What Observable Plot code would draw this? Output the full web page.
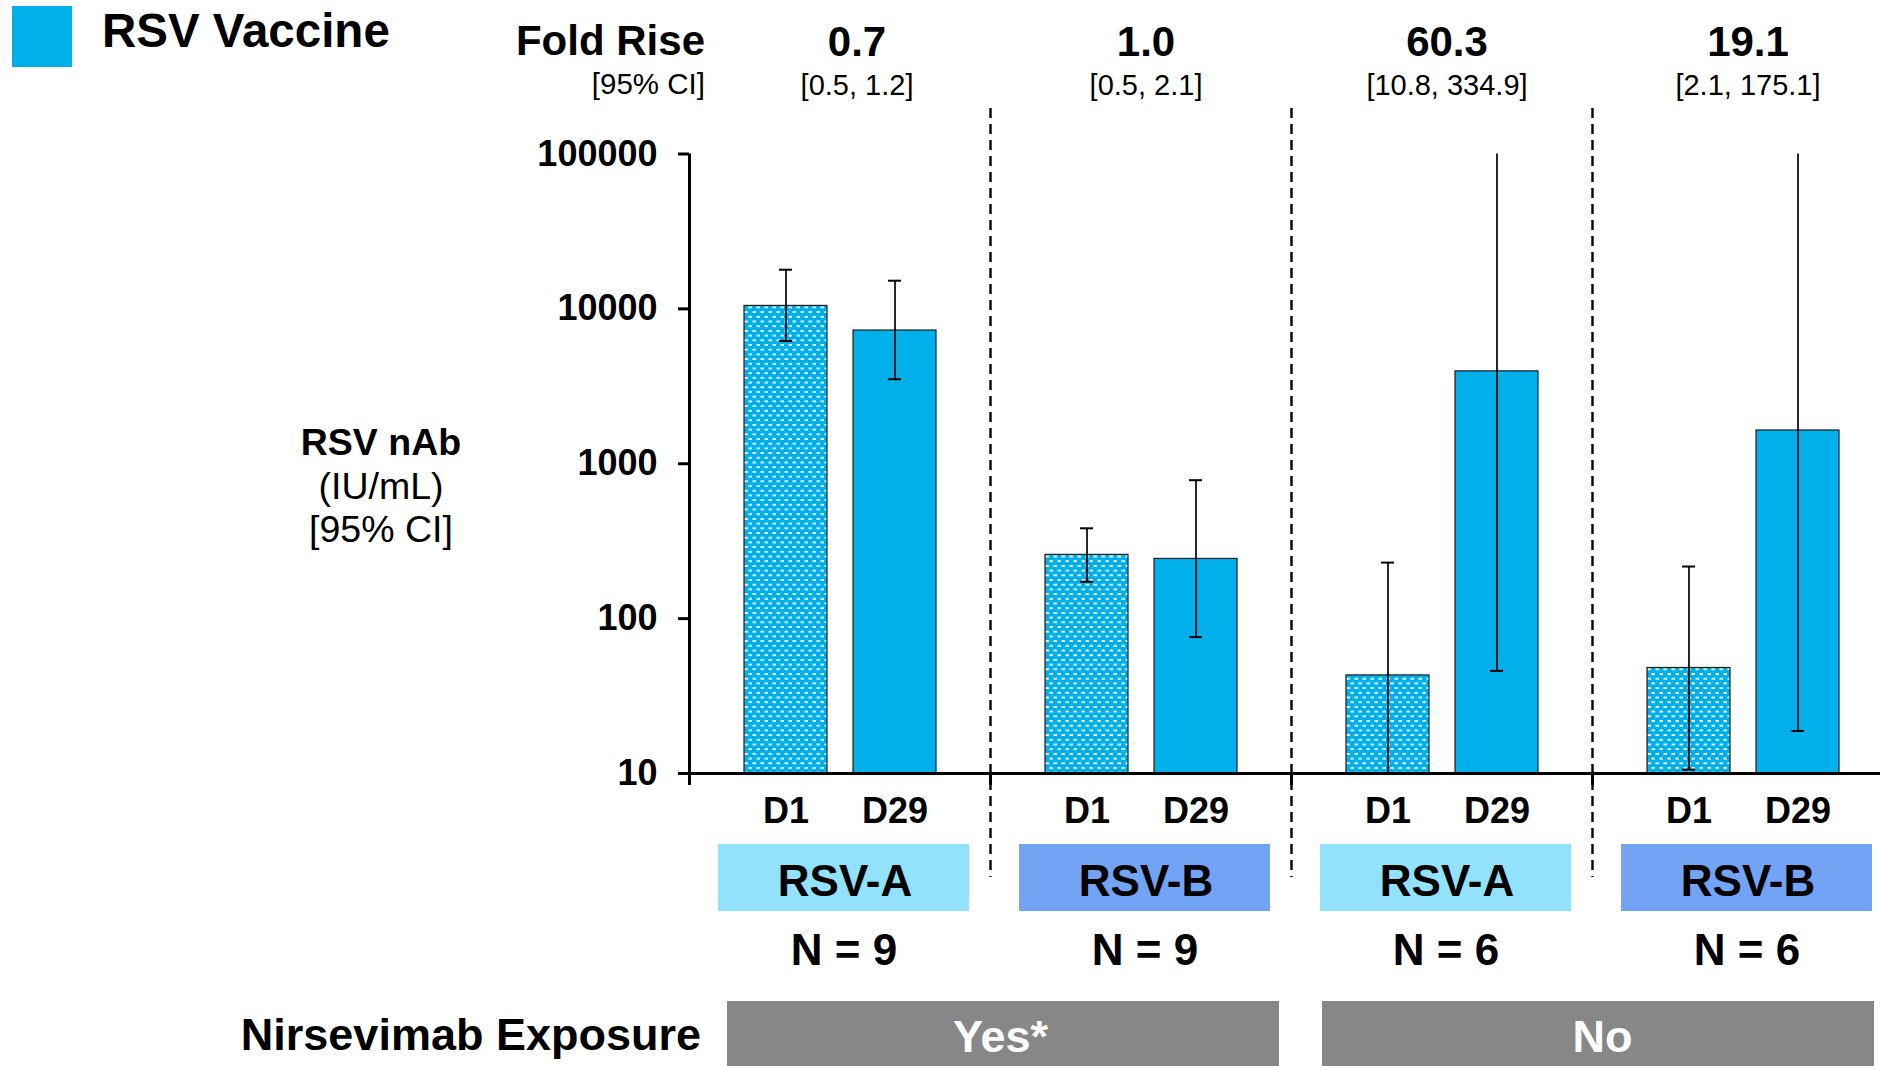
<!DOCTYPE html>
<html><head><meta charset="utf-8">
<script src="https://cdn.jsdelivr.net/npm/d3@7"></script>
<script src="https://cdn.jsdelivr.net/npm/@observablehq/plot@0.6"></script>
<style>
html,body{margin:0;padding:0;background:#fff;overflow:hidden;}
#chart svg{display:block;max-width:none;}
g[aria-label="y-axis tick label"] text, g[aria-label="x-axis tick label"] text{font-weight:bold;}
</style></head><body><div id="chart"></div>
<script>
// ---- data ----
const groups = ["RSV-A | Yes", "RSV-B | Yes", "RSV-A | No", "RSV-B | No"];
const strains = ["RSV-A", "RSV-B", "RSV-A", "RSV-B"];
const nLabels = ["N = 9", "N = 9", "N = 6", "N = 6"];
const foldRise = ["0.7", "1.0", "60.3", "19.1"];
const foldRiseCI = ["[0.5, 1.2]", "[0.5, 2.1]", "[10.8, 334.9]", "[2.1, 175.1]"];
const days = ["D1", "D29"];
const d1GMT = [10450, 258, 43, 48];
const d1Lower = [6200, 173, 7.5, 10.6];
const d1Upper = [17900, 383, 230, 217];
const d29GMT = [7250, 243, 3950, 1640];
const d29Lower = [3515, 76, 46, 18.8];
const d29Upper = [15200, 783, 300000, 150000];
const exposureLabels = ["Yes*", "No"];
const yTicks = [10, 100, 1000, 10000, 100000];
const strainColors = ["#92e2fb", "#72a3f5"];
const vaccineColor = "#00b0ea";

// ---- tables ----
const bars = groups.flatMap((g, i) => [
  {group: g, day: days[0], gmt: d1GMT[i], lo: d1Lower[i], hi: d1Upper[i]},
  {group: g, day: days[1], gmt: d29GMT[i], lo: d29Lower[i], hi: d29Upper[i]}
]);
const groupRows = groups.map((g, i) => ({group: g, strain: strains[i], n: nLabels[i], fr: foldRise[i], ci: foldRiseCI[i]}));
const exposure = [{group: groups[1], label: exposureLabels[0]}, {group: groups[3], label: exposureLabels[1]}];

// ---- layout ----
const W = 1880, H = 1066, mL = 689, mR = -13, mT = 153.5, mB = 293;
const facetW = (W - mL - mR) / groups.length;
const axisBottom = H - mB;
const FONT = "'Liberation Sans', Arial, Helvetica, sans-serif";
const expoBox = {fill: "#878787", insetTop: 1001 - mT, insetBottom: -(H + 5 - axisBottom)};
const frStyle = {fx: "group", text: "fr", frameAnchor: "top", dy: 55 - mT, lineAnchor: "bottom", fontSize: 42, fontWeight: "bold", fill: "#000"};
const ciStyle = {fx: "group", text: "ci", frameAnchor: "top", dy: 94 - mT, lineAnchor: "bottom", fontSize: 29, fill: "#000"};

const chart = Plot.plot({
  width: W, height: H,
  marginLeft: mL, marginRight: mR, marginTop: mT, marginBottom: mB,
  style: {fontFamily: FONT, color: "#000", background: "#fff"},
  fx: {domain: groups, padding: 0, axis: null},
  x: {type: "band", domain: days, paddingInner: 0.24, paddingOuter: 0.5, axis: null},
  y: {type: "log", domain: [yTicks[0], yTicks[yTicks.length - 1]], axis: null},
  color: {domain: ["RSV-A", "RSV-B"], range: strainColors},
  marks: [
    // strain boxes below axis
    Plot.rect(groupRows, {fx: "group", fill: "strain", insetLeft: 29, insetRight: 21,
      insetTop: 844 - mT, insetBottom: -(911 - axisBottom)}),
    // exposure boxes (two halves per exposure)
    Plot.rect(groupRows.slice(0, 1), {fx: "group", ...expoBox, insetLeft: 38, insetRight: -1}),
    Plot.rect(groupRows.slice(1, 2), {fx: "group", ...expoBox, insetLeft: 0, insetRight: 12}),
    Plot.rect(groupRows.slice(2, 3), {fx: "group", ...expoBox, insetLeft: 31, insetRight: -1}),
    Plot.rect(groupRows.slice(3, 4), {fx: "group", ...expoBox, insetLeft: 0, insetRight: 19}),
    // dashed separators
    Plot.ruleX(groupRows.slice(1), {fx: "group", x: null, dx: -facetW / 2, insetTop: -(mT - 108), insetBottom: -(877 - axisBottom),
      stroke: "#000", strokeWidth: 2.4, strokeDasharray: "10,6"}),
    // bars
    Plot.barY(bars.filter(d => d.day === days[0]), {fx: "group", x: "day", y1: yTicks[0], y2: "gmt",
      fill: "url(#rsv-dots)", stroke: "#1f1f1f", strokeWidth: 1.2}),
    Plot.barY(bars.filter(d => d.day === days[1]), {fx: "group", x: "day", y1: yTicks[0], y2: "gmt",
      fill: vaccineColor, stroke: "#1f1f1f", strokeWidth: 1.2}),
    // error bars
    Plot.ruleX(bars, {fx: "group", x: "day", y1: "lo", y2: "hi", stroke: "#000", strokeWidth: 1.7, clip: true}),
    Plot.tickY(bars, {fx: "group", x: "day", y: "hi", stroke: "#000", strokeWidth: 2, insetLeft: 35, insetRight: 35, clip: true}),
    Plot.tickY(bars, {fx: "group", x: "day", y: "lo", stroke: "#000", strokeWidth: 2, insetLeft: 35, insetRight: 35, clip: true}),
    // axis lines
    Plot.ruleY([yTicks[0]], {stroke: "#000", strokeWidth: 3}),
    Plot.ruleX(groupRows.slice(0, 1), {fx: "group", x: null, dx: -facetW / 2, insetBottom: -12, stroke: "#000", strokeWidth: 3}),
    Plot.ruleX(groupRows.slice(1), {fx: "group", x: null, dx: -facetW / 2, y1: yTicks[0], y2: yTicks[0], insetBottom: -12, stroke: "#000", strokeWidth: 3}),
    Plot.axisY({ticks: yTicks, tickFormat: d => String(d), tickSize: 11, tickPadding: 21, fontSize: 36, fontWeight: "bold",
      strokeWidth: 3, label: null, color: "#000"}),
    Plot.axisX({tickSize: 0, tickPadding: 24, fontSize: 36, fontWeight: "bold", label: null, color: "#000"}),
    // fold rise row
    Plot.text(groupRows.slice(0, 1), {...frStyle, dx: 17}),
    Plot.text(groupRows.slice(1), {...frStyle, dx: 5}),
    Plot.text(groupRows.slice(0, 1), {...ciStyle, dx: 17}),
    Plot.text(groupRows.slice(1), {...ciStyle, dx: 5}),
    // strain + N
    Plot.text(groupRows, {fx: "group", text: "strain", frameAnchor: "bottom", dx: 5, dy: 895 - axisBottom, lineAnchor: "bottom",
      fontSize: 44, fontWeight: "bold", fill: "#000"}),
    Plot.text(groupRows, {fx: "group", text: "n", frameAnchor: "bottom", dx: 4, dy: 964 - axisBottom, lineAnchor: "bottom",
      fontSize: 44, fontWeight: "bold", fill: "#000"}),
    // exposure labels
    Plot.text(exposure, {fx: "group", text: "label", frameAnchor: "bottom-left", textAnchor: "middle", dx: 10, dy: 1051 - axisBottom,
      lineAnchor: "bottom", fontSize: 45, fontWeight: "bold", fill: "#fff"})
  ]
});

document.getElementById("chart").appendChild(chart);

// pattern for D1 bars
const svg = d3.select(chart.tagName.toLowerCase() === "svg" ? chart : chart.querySelector("svg"));
const pat = svg.insert("defs", ":first-child").append("pattern")
  .attr("id", "rsv-dots").attr("patternUnits", "userSpaceOnUse").attr("width", 8).attr("height", 9.4);
pat.append("rect").attr("width", 8).attr("height", 9.4).attr("fill", vaccineColor);
pat.append("rect").attr("x", 0.5).attr("y", 1).attr("width", 3.6).attr("height", 1.8).attr("fill", "#fff");
pat.append("rect").attr("x", 4.5).attr("y", 5.7).attr("width", 3.6).attr("height", 1.8).attr("fill", "#fff");

// static labels
const lab = svg.append("g").attr("font-family", FONT).attr("fill", "#000").attr("text-anchor", "start");
lab.append("rect").attr("x", 12).attr("y", 6).attr("width", 60).attr("height", 61).attr("fill", vaccineColor);
lab.append("text").attr("x", 102).attr("y", 47).attr("text-anchor", "start").attr("font-size", 47.5).attr("font-weight", "bold").text("RSV Vaccine");
lab.append("text").attr("x", 705).attr("y", 55).attr("text-anchor", "end").attr("font-size", 42).attr("font-weight", "bold").text("Fold Rise");
lab.append("text").attr("x", 705).attr("y", 94).attr("text-anchor", "end").attr("font-size", 29.5).text("[95% CI]");
lab.append("text").attr("x", 381).attr("y", 455).attr("text-anchor", "middle").attr("font-size", 37.5).attr("font-weight", "bold").text("RSV nAb");
lab.append("text").attr("x", 381).attr("y", 499).attr("text-anchor", "middle").attr("font-size", 37.5).text("(IU/mL)");
lab.append("text").attr("x", 381).attr("y", 542).attr("text-anchor", "middle").attr("font-size", 37.5).text("[95% CI]");
lab.append("text").attr("x", 701).attr("y", 1050).attr("text-anchor", "end").attr("font-size", 45).attr("font-weight", "bold").text("Nirsevimab Exposure");
</script></body></html>
